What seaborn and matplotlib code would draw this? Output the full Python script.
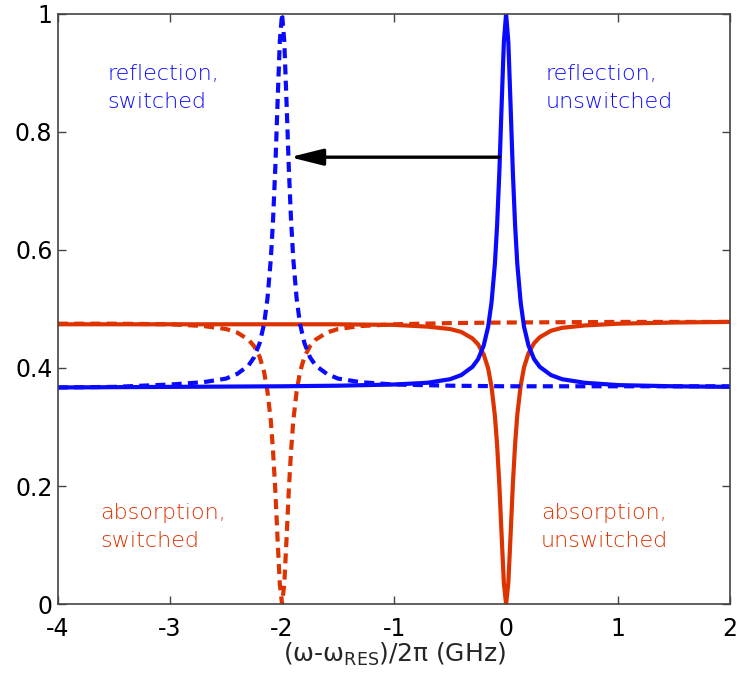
"""Reflection / absorption spectra, switched vs unswitched resonance."""
import matplotlib
matplotlib.use('Agg')
import matplotlib.pyplot as plt
import seaborn as sns

sns.set_theme(style='ticks', context='paper')
plt.rcParams['font.family'] = ['DejaVu Sans']
plt.rcParams['mathtext.default'] = 'regular'

BLUE = '#0a0aff'
RED = '#dd3300'

# unswitched resonance (centred at 0 GHz)
x_unsw = [-4.0, -3.0, -2.0, -1.5, -1.0, -0.7, -0.5, -0.4, -0.3, -0.25, -0.2, -0.16,
          -0.13, -0.1, -0.08, -0.06, -0.04, -0.02, 0.0, 0.02, 0.04, 0.06, 0.08, 0.1,
          0.13, 0.16, 0.2, 0.25, 0.3, 0.4, 0.5, 0.7, 1.0, 1.5, 2.0]
refl_unsw = [0.367, 0.368, 0.369, 0.370, 0.372, 0.375, 0.381, 0.388, 0.402, 0.415,
             0.438, 0.470, 0.511, 0.576, 0.643, 0.733, 0.845, 0.952, 1.000, 0.952,
             0.845, 0.733, 0.643, 0.576, 0.511, 0.470, 0.438, 0.415, 0.402, 0.388,
             0.381, 0.375, 0.371, 0.369, 0.368]
abs_unsw = [0.474, 0.474, 0.474, 0.474, 0.473, 0.470, 0.466, 0.461, 0.450, 0.440,
            0.423, 0.399, 0.368, 0.319, 0.269, 0.201, 0.117, 0.036, 0.000, 0.036,
            0.117, 0.202, 0.270, 0.321, 0.370, 0.401, 0.425, 0.442, 0.452, 0.463,
            0.468, 0.472, 0.475, 0.477, 0.478]

# switched resonance (centred at -2 GHz)
x_sw = [-4.0, -3.5, -3.0, -2.7, -2.5, -2.4, -2.3, -2.25, -2.2, -2.16, -2.13, -2.1,
        -2.08, -2.06, -2.04, -2.02, -2.0, -1.98, -1.96, -1.94, -1.92, -1.9, -1.87,
        -1.84, -1.8, -1.75, -1.7, -1.6, -1.5, -1.3, -1.0, -0.5, 0.0, 1.0, 2.0]
refl_sw = [0.367, 0.368, 0.372, 0.376, 0.382, 0.390, 0.404, 0.418, 0.442, 0.475,
           0.518, 0.585, 0.652, 0.740, 0.850, 0.953, 1.000, 0.953, 0.850, 0.740,
           0.652, 0.585, 0.518, 0.475, 0.442, 0.418, 0.404, 0.390, 0.382, 0.376,
           0.372, 0.370, 0.369, 0.369, 0.369]
abs_sw = [0.475, 0.475, 0.474, 0.471, 0.466, 0.460, 0.448, 0.437, 0.419, 0.393,
          0.360, 0.310, 0.258, 0.192, 0.110, 0.034, 0.000, 0.034, 0.110, 0.192,
          0.258, 0.310, 0.360, 0.393, 0.419, 0.437, 0.448, 0.460, 0.466, 0.471,
          0.474, 0.476, 0.477, 0.478, 0.478]

LABELS = {
    'reflection,\nswitched': (-3.56, 0.875, BLUE),
    'reflection,\nunswitched': (0.35, 0.875, BLUE),
    'absorption,\nswitched': (-3.62, 0.13, RED),
    'absorption,\nunswitched': (0.31, 0.13, RED),
}

fig = plt.figure(figsize=(7.37, 6.85), dpi=100)
ax = fig.add_axes([0.0787, 0.118, 0.912, 0.862])

lw = 3.0
dash = (2.4, 1.5)
sns.lineplot(x=x_sw, y=abs_sw, ax=ax, color=RED, lw=lw, linestyle=(0, dash))
sns.lineplot(x=x_unsw, y=abs_unsw, ax=ax, color=RED, lw=lw)
sns.lineplot(x=x_sw, y=refl_sw, ax=ax, color=BLUE, lw=lw, linestyle=(0, dash))
sns.lineplot(x=x_unsw, y=refl_unsw, ax=ax, color=BLUE, lw=lw)

ax.annotate('', xy=(-1.93, 0.757), xytext=(-0.06, 0.757),
            arrowprops=dict(arrowstyle='-|>,head_length=2.0,head_width=0.5',
                            color='black', lw=2.4, mutation_scale=10,
                            shrinkA=0, shrinkB=0))

for text, (tx, ty, col) in LABELS.items():
    ax.text(tx, ty, text, color=col, fontsize=16, ha='left', va='center',
            linespacing=1.5, fontweight='light')

ax.set_xlim(-4, 2)
ax.set_ylim(0, 1)
ax.set_xticks([-4, -3, -2, -1, 0, 1, 2])
ax.set_xticklabels(['-4', '-3', '-2', '-1', '0', '1', '2'])
ax.set_yticks([0, 0.2, 0.4, 0.6, 0.8, 1])
ax.set_yticklabels(['0', '0.2', '0.4', '0.6', '0.8', '1'])
ax.tick_params(direction='in', top=True, right=True, length=6, width=1,
               labelsize=17, colors='#444444', labelcolor='black')
ax.tick_params(axis='x', pad=9)
ax.tick_params(axis='y', pad=4)
for sp in ax.spines.values():
    sp.set_color('#444444')
    sp.set_linewidth(1.2)
ax.set_xlabel('(ω-$ω_{RES}$)/2π (GHz)', fontsize=18, labelpad=0)
ax.set_ylabel('')

fig.savefig('out.png', dpi=100)
